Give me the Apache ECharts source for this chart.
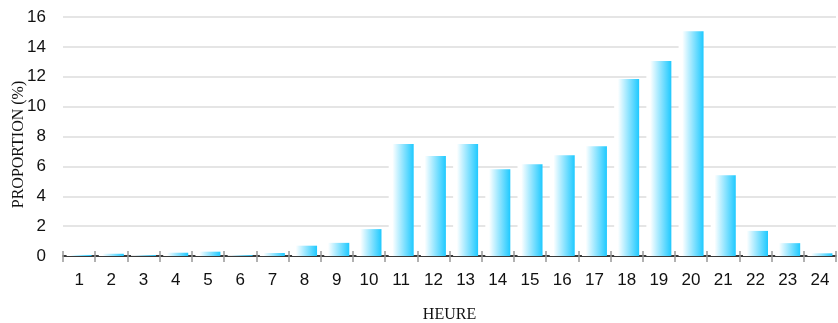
<!DOCTYPE html>
<html>
<head>
<meta charset="utf-8">
<script src="https://cdn.jsdelivr.net/npm/echarts@6/dist/echarts.min.js"></script>
<style>
  html, body { margin: 0; padding: 0; background: #fff; }
  #chart { width: 838px; height: 323px; }
</style>
</head>
<body>
<div id="chart"></div>
<script>
// Hours of the day (1..24)
const hours = ['1','2','3','4','5','6','7','8','9','10','11','12','13','14','15','16','17','18','19','20','21','22','23','24'];
// Share of the total per hour, in percent
const proportion = [0.07, 0.15, 0.06, 0.22, 0.29, 0.06, 0.2, 0.69, 0.88, 1.8, 7.5, 6.7, 7.5, 5.8, 6.15, 6.75, 7.35, 11.85, 13.05, 15.05, 5.4, 1.68, 0.86, 0.18];
// Value axis range
const yMin = 0, yMax = 16, yStep = 2;

const chart = echarts.init(document.getElementById('chart'), null, { renderer: 'canvas' });

const barFill = new echarts.graphic.LinearGradient(0, 0, 1, 0, [
  { offset: 0, color: '#ffffff' },
  { offset: 0.15, color: '#ffffff' },
  { offset: 1, color: '#1ec9ff' }
]);

chart.setOption({
  animation: false,
  backgroundColor: '#ffffff',
  grid: { left: 63, right: 2, top: 17, bottom: 67, containLabel: false, outerBoundsMode: 'none' },
  xAxis: [{
    type: 'category',
    data: hours,
    name: 'HEURE',
    nameLocation: 'middle',
    nameGap: 51,
    nameMoveOverlap: false,
    nameTextStyle: { fontFamily: 'Liberation Serif', fontSize: 16, color: '#111' },
    axisLine: { show: true, lineStyle: { color: '#000', width: 1.5 } },
    axisTick: { show: true, alignWithLabel: false, length: 6, lineStyle: { color: '#999', width: 1.5 } },
    axisLabel: { fontFamily: 'Liberation Sans', fontSize: 17, color: '#111', margin: 16 },
    splitLine: { show: false }
  }, {
    type: 'category',
    data: hours,
    position: 'bottom',
    axisLine: { show: false },
    axisTick: { show: true, inside: true, length: 5, lineStyle: { color: '#999', width: 1.5 } },
    axisLabel: { show: false },
    splitLine: { show: false }
  }],
  yAxis: {
    type: 'value',
    min: yMin,
    max: yMax,
    interval: yStep,
    name: 'PROPORTION (%)',
    nameLocation: 'middle',
    nameGap: 36,
    nameMoveOverlap: false,
    nameRotate: 90,
    nameTextStyle: { fontFamily: 'Liberation Serif', fontSize: 16, color: '#111', padding: [0, 16, 0, 0] },
    axisLine: { show: false },
    axisTick: { show: false },
    axisLabel: { fontFamily: 'Liberation Sans', fontSize: 17, color: '#111', margin: 17 },
    splitLine: { show: true, lineStyle: { color: '#dcdcdc', width: 1.5 } }
  },
  series: [{
    type: 'bar',
    data: proportion,
    barWidth: 25,
    itemStyle: { color: barFill },
    z: 1
  }]
});
</script>
</body>
</html>
